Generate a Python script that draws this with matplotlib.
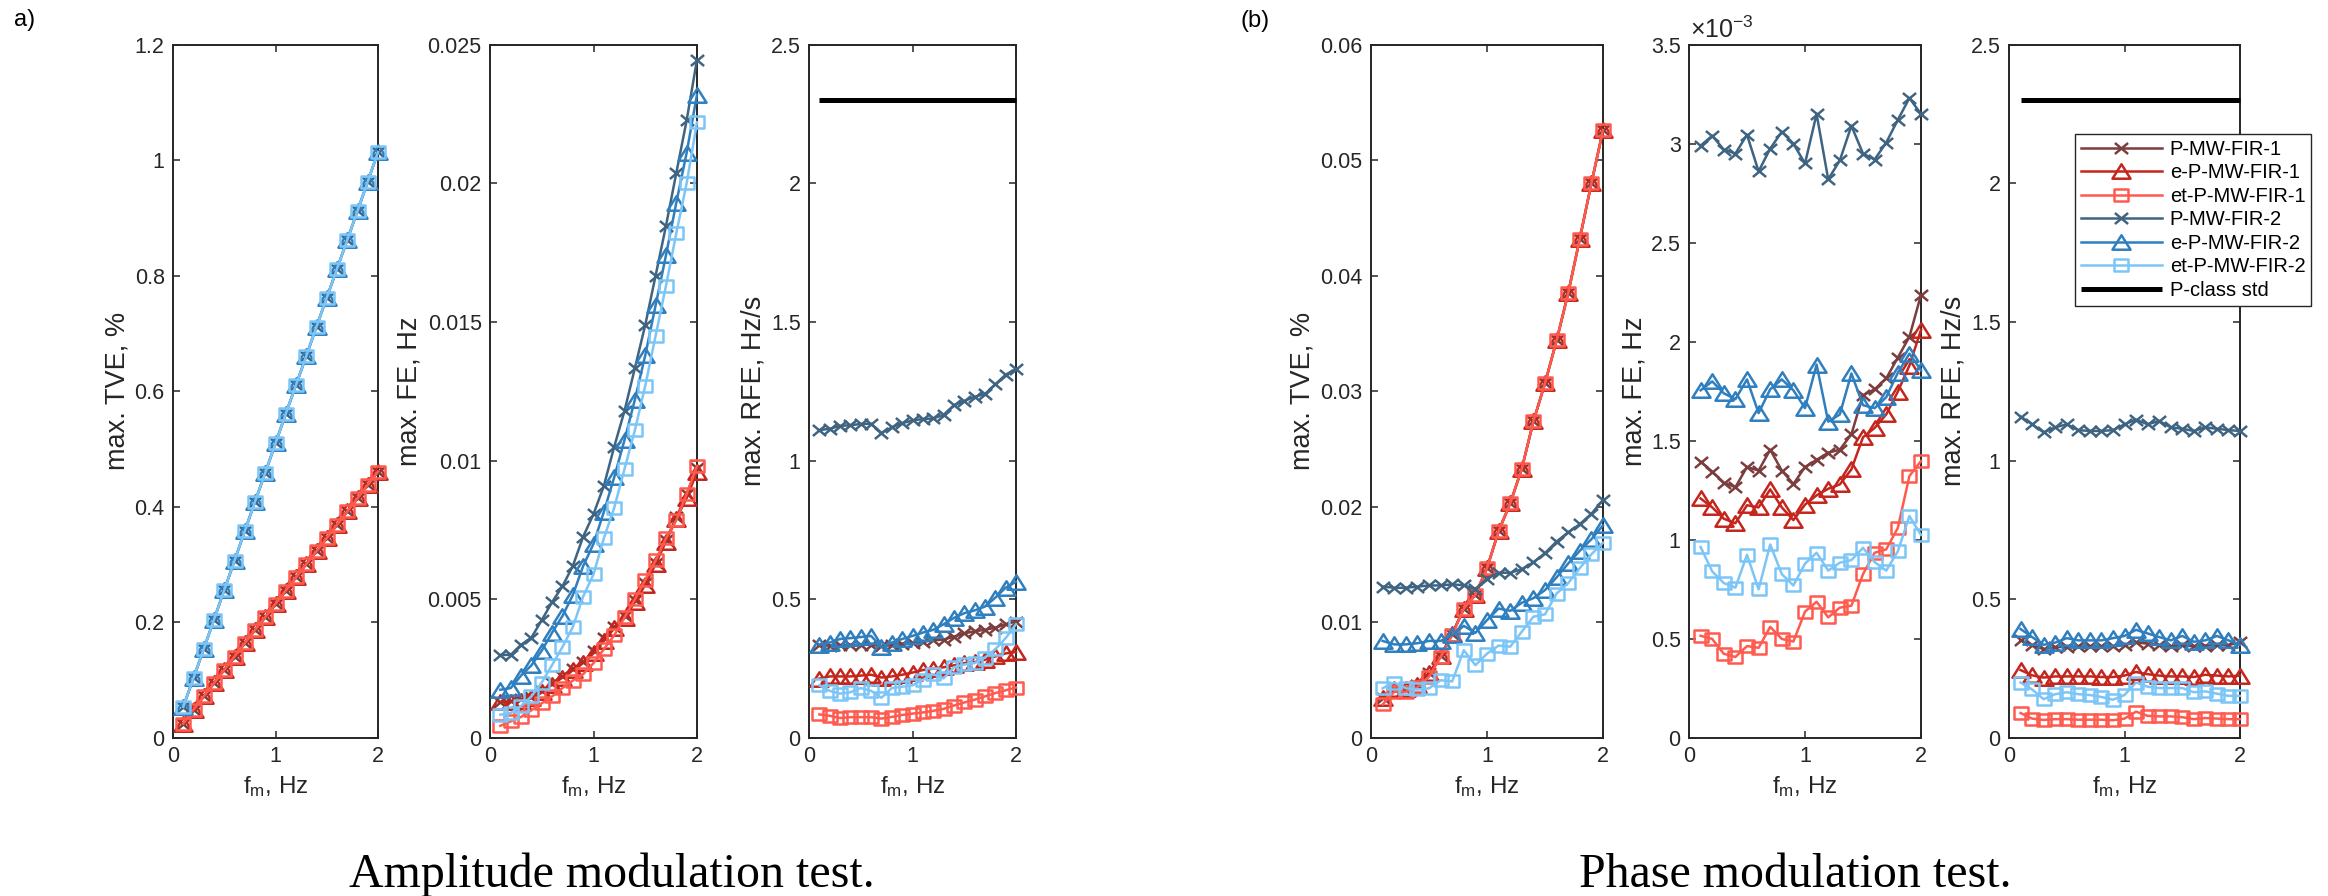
import numpy as np
import matplotlib
matplotlib.use("Agg")
import matplotlib.pyplot as plt
from matplotlib.path import Path
from matplotlib.ticker import FuncFormatter

plt.rcParams['font.family'] = ['Liberation Sans', 'DejaVu Sans']
plt.rcParams['mathtext.fontset'] = 'custom'
plt.rcParams['mathtext.rm'] = 'Liberation Sans'
plt.rcParams['mathtext.it'] = 'Liberation Sans:italic'

# ---------------- data ----------------
fm = [0.1, 0.2, 0.3, 0.4, 0.5, 0.6, 0.7, 0.8, 0.9, 1.0,
      1.1, 1.2, 1.3, 1.4, 1.5, 1.6, 1.7, 1.8, 1.9, 2.0]

series_names = ['P-MW-FIR-1', 'e-P-MW-FIR-1', 'et-P-MW-FIR-1',
                'P-MW-FIR-2', 'e-P-MW-FIR-2', 'et-P-MW-FIR-2']
std_name = 'P-class std'

# Amplitude modulation test
amp_tve_fir1 = [0.025, 0.049, 0.072, 0.095, 0.118, 0.141, 0.164, 0.187, 0.209, 0.232,
                0.255, 0.278, 0.301, 0.323, 0.346, 0.369, 0.392, 0.415, 0.438, 0.461]
amp_tve_fir2 = [0.054, 0.104, 0.154, 0.205, 0.256, 0.307, 0.358, 0.409, 0.459, 0.510,
                0.561, 0.611, 0.661, 0.712, 0.762, 0.812, 0.862, 0.912, 0.963, 1.014]

amp_fe_P1 = [0.00130, 0.00133, 0.00140, 0.00148, 0.00170, 0.00198, 0.00222, 0.00250, 0.00275, 0.00312,
             0.00360, 0.00400, 0.00440, 0.00498, 0.00560, 0.00630, 0.00715, 0.00795, 0.00880, 0.00975]
amp_fe_eP1 = [0.00128, 0.00130, 0.00135, 0.00143, 0.00165, 0.00192, 0.00218, 0.00245, 0.00272, 0.00305,
              0.00350, 0.00395, 0.00433, 0.00490, 0.00552, 0.00628, 0.00708, 0.00790, 0.00865, 0.00960]
amp_fe_etP1 = [0.00044, 0.00060, 0.00076, 0.00100, 0.00125, 0.00150, 0.00180, 0.00207, 0.00230, 0.00270,
               0.00320, 0.00370, 0.00435, 0.00500, 0.00570, 0.00640, 0.00720, 0.00785, 0.00880, 0.00980]
amp_fe_P2 = [0.00299, 0.00300, 0.00336, 0.00362, 0.00425, 0.00490, 0.00547, 0.00620, 0.00726, 0.00807,
             0.00909, 0.01050, 0.01180, 0.01334, 0.01489, 0.01667, 0.01846, 0.02037, 0.02227, 0.02446]
amp_fe_eP2 = [0.00174, 0.00180, 0.00225, 0.00262, 0.00315, 0.00380, 0.00440, 0.00515, 0.00620, 0.00700,
              0.00815, 0.00940, 0.01075, 0.01220, 0.01380, 0.01560, 0.01740, 0.01930, 0.02110, 0.02320]
amp_fe_etP2 = [0.00084, 0.00090, 0.00115, 0.00150, 0.00200, 0.00263, 0.00328, 0.00400, 0.00510, 0.00590,
               0.00720, 0.00830, 0.00970, 0.01110, 0.01270, 0.01450, 0.01630, 0.01820, 0.02000, 0.02220]

amp_rfe_P1 = [0.335, 0.333, 0.335, 0.336, 0.335, 0.337, 0.330, 0.335, 0.340, 0.343,
              0.347, 0.352, 0.355, 0.365, 0.377, 0.385, 0.390, 0.398, 0.410, 0.420]
amp_rfe_eP1 = [0.214, 0.222, 0.222, 0.222, 0.225, 0.228, 0.218, 0.222, 0.228, 0.236,
               0.245, 0.250, 0.255, 0.262, 0.270, 0.274, 0.282, 0.294, 0.305, 0.310]
amp_rfe_etP1 = [0.085, 0.080, 0.072, 0.075, 0.075, 0.075, 0.070, 0.076, 0.083, 0.088,
                0.092, 0.098, 0.105, 0.117, 0.128, 0.138, 0.150, 0.162, 0.172, 0.182]
amp_rfe_P2 = [1.110, 1.115, 1.125, 1.128, 1.132, 1.133, 1.100, 1.120, 1.135, 1.145,
              1.150, 1.152, 1.165, 1.200, 1.215, 1.230, 1.240, 1.275, 1.310, 1.330]
amp_rfe_eP2 = [0.336, 0.344, 0.357, 0.360, 0.364, 0.368, 0.328, 0.344, 0.357, 0.368,
               0.380, 0.390, 0.410, 0.433, 0.450, 0.460, 0.474, 0.506, 0.542, 0.563]
amp_rfe_etP2 = [0.190, 0.170, 0.160, 0.165, 0.180, 0.170, 0.145, 0.180, 0.185, 0.190,
                0.210, 0.230, 0.215, 0.255, 0.265, 0.270, 0.290, 0.320, 0.360, 0.410]

# Phase modulation test
ph_tve_P1 = [0.0035, 0.0042, 0.0042, 0.0046, 0.0056, 0.0071, 0.0090, 0.0112, 0.0124, 0.0147,
             0.0179, 0.0203, 0.0233, 0.0274, 0.0307, 0.0344, 0.0385, 0.0432, 0.0480, 0.0526]
ph_tve_eP1 = [0.0035, 0.0042, 0.0042, 0.0046, 0.0056, 0.0071, 0.0090, 0.0112, 0.0124, 0.0147,
              0.0179, 0.0203, 0.0233, 0.0274, 0.0307, 0.0344, 0.0385, 0.0432, 0.0480, 0.0526]
ph_tve_etP1 = [0.0029, 0.0040, 0.0040, 0.0044, 0.0053, 0.0070, 0.0089, 0.0112, 0.0124, 0.0147,
               0.0179, 0.0203, 0.0233, 0.0274, 0.0307, 0.0344, 0.0385, 0.0432, 0.0480, 0.0526]
ph_tve_P2 = [0.0131, 0.0130, 0.0130, 0.0131, 0.0132, 0.0132, 0.0133, 0.0132, 0.0129, 0.0138,
             0.0143, 0.0143, 0.0146, 0.0152, 0.0160, 0.0170, 0.0178, 0.0185, 0.0194, 0.0206]
ph_tve_eP2 = [0.0084, 0.0081, 0.0081, 0.0082, 0.0084, 0.0084, 0.0089, 0.0097, 0.0091, 0.0102,
              0.0112, 0.0110, 0.0117, 0.0121, 0.0128, 0.0139, 0.0151, 0.0162, 0.0172, 0.0184]
ph_tve_etP2 = [0.0043, 0.0048, 0.0043, 0.0042, 0.0043, 0.0050, 0.0049, 0.0076, 0.0063, 0.0073,
               0.0080, 0.0079, 0.0092, 0.0105, 0.0107, 0.0125, 0.0134, 0.0147, 0.0159, 0.0169]

# max. FE in units of 1e-3 Hz
ph_fe_P1 = [1.395, 1.345, 1.289, 1.266, 1.368, 1.350, 1.455, 1.350, 1.282, 1.368,
            1.404, 1.440, 1.455, 1.533, 1.730, 1.760, 1.815, 1.920, 2.025, 2.237]
ph_fe_eP1 = [1.209, 1.164, 1.107, 1.084, 1.175, 1.164, 1.255, 1.164, 1.100, 1.178,
             1.225, 1.258, 1.280, 1.356, 1.518, 1.565, 1.633, 1.748, 1.880, 2.060]
ph_fe_etP1 = [0.516, 0.500, 0.425, 0.409, 0.464, 0.455, 0.561, 0.500, 0.487, 0.638,
              0.688, 0.609, 0.658, 0.668, 0.827, 0.935, 0.952, 1.060, 1.322, 1.398]
ph_fe_P2 = [2.990, 3.040, 2.970, 2.950, 3.045, 2.860, 2.975, 3.060, 3.000, 2.900,
            3.150, 2.820, 2.915, 3.090, 2.950, 2.920, 3.005, 3.120, 3.230, 3.150]
ph_fe_eP2 = [1.755, 1.800, 1.740, 1.710, 1.810, 1.640, 1.760, 1.810, 1.755, 1.665,
             1.885, 1.597, 1.633, 1.840, 1.680, 1.665, 1.720, 1.843, 1.940, 1.856]
ph_fe_etP2 = [0.964, 0.841, 0.782, 0.759, 0.925, 0.750, 0.977, 0.827, 0.770, 0.880,
              0.935, 0.845, 0.885, 0.898, 0.960, 0.888, 0.845, 0.942, 1.120, 1.025]

ph_rfe_P1 = [0.352, 0.335, 0.320, 0.328, 0.328, 0.330, 0.330, 0.330, 0.330, 0.335,
             0.345, 0.340, 0.335, 0.330, 0.335, 0.330, 0.333, 0.335, 0.335, 0.345]
ph_rfe_eP1 = [0.245, 0.226, 0.218, 0.222, 0.222, 0.222, 0.222, 0.220, 0.220, 0.225,
              0.238, 0.230, 0.225, 0.222, 0.222, 0.220, 0.228, 0.225, 0.222, 0.225]
ph_rfe_etP1 = [0.090, 0.070, 0.065, 0.068, 0.068, 0.066, 0.066, 0.066, 0.064, 0.070,
               0.095, 0.080, 0.078, 0.078, 0.075, 0.068, 0.072, 0.070, 0.068, 0.068]
ph_rfe_P2 = [1.159, 1.131, 1.102, 1.120, 1.131, 1.110, 1.107, 1.107, 1.110, 1.131,
             1.148, 1.131, 1.143, 1.120, 1.115, 1.107, 1.120, 1.115, 1.110, 1.107]
ph_rfe_eP2 = [0.393, 0.364, 0.336, 0.344, 0.360, 0.352, 0.352, 0.352, 0.360, 0.368,
              0.390, 0.377, 0.364, 0.352, 0.368, 0.347, 0.352, 0.368, 0.352, 0.336]
ph_rfe_etP2 = [0.200, 0.175, 0.140, 0.158, 0.165, 0.158, 0.155, 0.148, 0.138, 0.155,
               0.200, 0.185, 0.180, 0.180, 0.180, 0.165, 0.168, 0.160, 0.152, 0.152]

pclass_x = [0.1, 2.0]
pclass_rfe = [2.3, 2.3]

# ---------------- styles ----------------
colors = ['#7b3d3d', '#c4261d', '#ff5a4e', '#3f6482', '#2f7fbf', '#7cc5f7']

tri = Path([(0, 1), (-1.25, -1), (1.25, -1), (0, 1)], closed=True)
sq = Path([(-1.2, -1), (1.2, -1), (1.2, 1), (-1.2, 1), (-1.2, -1)], closed=True)
xm = Path([(-1.2, -1), (1.2, 1), (-1.2, 1), (1.2, -1)],
          [Path.MOVETO, Path.LINETO, Path.MOVETO, Path.LINETO])
markers = [xm, tri, sq, xm, tri, sq]
msizes = [9.5, 13, 10, 9.5, 13, 10]

W, H = 2328, 896
fig = plt.figure(figsize=(W / 100, H / 100), dpi=100)

TICK_FS = 15.5
YLABEL_FS = 19.5
XLABEL_FS = 17.5


def add_ax(l, r, t=44.6, b=738):
    return fig.add_axes([l / W, 1 - b / H, (r - l) / W, (b - t) / H])


def style(ax, ylim, yticks, ylabel, ylab_x):
    ax.set_xlim(0, 2)
    ax.set_xticks([0, 1, 2])
    ax.set_ylim(*ylim)
    ax.set_yticks(yticks)
    fmt = FuncFormatter(lambda v, p: '{:g}'.format(round(v, 6)))
    ax.xaxis.set_major_formatter(fmt)
    ax.yaxis.set_major_formatter(fmt)
    ax.tick_params(direction='in', top=True, right=True, length=5, width=1.1,
                   labelsize=TICK_FS, color='#262626', labelcolor='#262626', pad=6)
    for s in ax.spines.values():
        s.set_linewidth(1.4)
        s.set_color('#262626')
    ax.set_xlabel(r'$\mathregular{f_m}$, Hz', fontsize=XLABEL_FS, color='#262626')
    ax.xaxis.set_label_coords(0.5, -0.052)
    ax.set_ylabel(ylabel, fontsize=YLABEL_FS, color='#262626', va='center')
    ax.yaxis.set_label_coords(ylab_x, 0.5)


def plot_series(ax, ys, with_std=False):
    handles = []
    for i, y in enumerate(ys):
        h, = ax.plot(fm, y, color=colors[i], lw=1.8, marker=markers[i], ms=msizes[i],
                     mew=1.8, mfc='none', mec=colors[i], clip_on=False,
                     label=series_names[i], zorder=3 + i * 0.1)
        handles.append(h)
    if with_std:
        h, = ax.plot(pclass_x, pclass_rfe, color='black', lw=3.6, label=std_name,
                     clip_on=False, zorder=4, solid_capstyle='butt')
        handles.append(h)
    return handles


# Amplitude modulation
ax1 = add_ax(173, 378)
plot_series(ax1, [amp_tve_fir1, amp_tve_fir1, amp_tve_fir1,
                  amp_tve_fir2, amp_tve_fir2, amp_tve_fir2])
style(ax1, (0, 1.2), [0, 0.2, 0.4, 0.6, 0.8, 1.0, 1.2], 'max. TVE, %', -0.273)

ax2 = add_ax(490, 697)
plot_series(ax2, [amp_fe_P1, amp_fe_eP1, amp_fe_etP1, amp_fe_P2, amp_fe_eP2, amp_fe_etP2])
style(ax2, (0, 0.025), [0, 0.005, 0.01, 0.015, 0.02, 0.025], 'max. FE, Hz', -0.391)

ax3 = add_ax(809, 1016)
plot_series(ax3, [amp_rfe_P1, amp_rfe_eP1, amp_rfe_etP1, amp_rfe_P2, amp_rfe_eP2, amp_rfe_etP2],
            with_std=True)
style(ax3, (0, 2.5), [0, 0.5, 1, 1.5, 2, 2.5], 'max. RFE, Hz/s', -0.266)

# Phase modulation
ax4 = add_ax(1371, 1603)
plot_series(ax4, [ph_tve_P1, ph_tve_eP1, ph_tve_etP1, ph_tve_P2, ph_tve_eP2, ph_tve_etP2])
style(ax4, (0, 0.06), [0, 0.01, 0.02, 0.03, 0.04, 0.05, 0.06], 'max. TVE, %', -0.297)

ax5 = add_ax(1689, 1921)
plot_series(ax5, [ph_fe_P1, ph_fe_eP1, ph_fe_etP1, ph_fe_P2, ph_fe_eP2, ph_fe_etP2])
style(ax5, (0, 3.5), [0, 0.5, 1, 1.5, 2, 2.5, 3, 3.5], 'max. FE, Hz', -0.237)
fig.text(1690 / W, 1 - 30 / H, r'$\mathregular{\times 10^{-3}}$', fontsize=18,
         color='#262626', ha='left', va='center')

ax6 = add_ax(2009, 2240)
hs = plot_series(ax6, [ph_rfe_P1, ph_rfe_eP1, ph_rfe_etP1, ph_rfe_P2, ph_rfe_eP2, ph_rfe_etP2],
                 with_std=True)
style(ax6, (0, 2.5), [0, 0.5, 1, 1.5, 2, 2.5], 'max. RFE, Hz/s', -0.242)

leg = fig.legend(handles=hs, loc='upper left', bbox_to_anchor=(2075 / W, 1 - 134 / H),
                 bbox_transform=fig.transFigure, fontsize=14.5, frameon=True, fancybox=False,
                 edgecolor='#262626', framealpha=1, borderaxespad=0, borderpad=0.3,
                 handlelength=4.0, handletextpad=0.4, labelspacing=0.22, numpoints=1)
leg.get_frame().set_linewidth(1.0)
leg.set_zorder(10)

# panel letters
fig.text(14 / W, 1 - 20 / H, 'a)', fontsize=17, ha='left', va='center')
fig.text(1240 / W, 1 - 21 / H, '(b)', fontsize=17, ha='left', va='center')

# captions
fig.text(612 / W, 9 / H, 'Amplitude modulation test.', fontsize=34.5,
         family='Liberation Serif', ha='center', va='baseline')
fig.text(1795 / W, 9 / H, 'Phase modulation test.', fontsize=34.5,
         family='Liberation Serif', ha='center', va='baseline')

fig.savefig('out.png', dpi=100)
